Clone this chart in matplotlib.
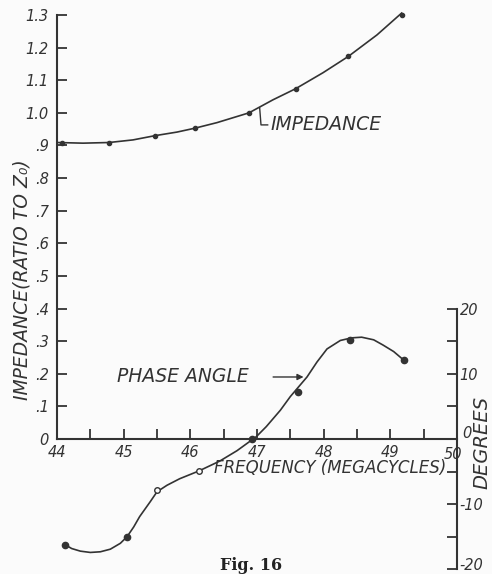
import matplotlib.pyplot as plt
import matplotlib.transforms as mtransforms
import numpy as np

# impedance (ratio to Z0) - measured points
imp_freq = [44.07, 44.78, 45.47, 46.07, 46.88, 47.58, 48.37, 49.17]
imp_val = [0.906, 0.909, 0.930, 0.953, 1.000, 1.074, 1.173, 1.300]
# impedance - drawn curve
imp_curve_f = [44.0, 44.39, 44.78, 45.14, 45.47, 45.8, 46.07, 46.4, 46.88,
               47.24, 47.58, 47.99, 48.37, 48.8, 49.17]
imp_curve_v = [0.909, 0.907, 0.909, 0.917, 0.930, 0.941, 0.953, 0.970, 1.0,
               1.040, 1.074, 1.123, 1.173, 1.239, 1.306]

# phase angle (degrees) - measured points
ph_freq = [44.12, 45.05, 46.92, 47.62, 48.40, 49.20]
ph_val = [-16.2, -15.0, 0.0, 7.2, 15.1, 12.1]
ph_open_freq = [45.50, 46.13]
ph_open_val = [-7.9, -4.9]
# phase angle - drawn curve
ph_curve_f = [44.12, 44.22, 44.35, 44.5, 44.65, 44.8, 44.95, 45.05, 45.15,
              45.24, 45.4, 45.5, 45.65, 45.84, 46.13, 46.44, 46.7, 46.99,
              47.14, 47.35, 47.5, 47.75, 47.9, 48.05, 48.25, 48.42, 48.57,
              48.75, 48.89, 49.05, 49.2]
ph_curve_v = [-16.2, -16.8, -17.2, -17.4, -17.3, -16.9, -16.0, -15.0, -13.5,
              -11.9, -9.6, -8.1, -7.1, -6.1, -4.9, -3.4, -1.8, 0.35,
              1.9, 4.4, 6.5, 9.5, 11.8, 13.8, 15.1, 15.5, 15.6,
              15.2, 14.4, 13.4, 12.1]

imp_ticks = [0, .1, .2, .3, .4, .5, .6, .7, .8, .9, 1.0, 1.1, 1.2, 1.3]
imp_labels = ['0', '.1', '.2', '.3', '.4', '.5', '.6', '.7', '.8', '.9',
              '1.0', '1.1', '1.2', '1.3']
freq_ticks = [44, 45, 46, 47, 48, 49, 50]
deg_ticks = [-20, -15, -10, -5, 0, 5, 10, 15, 20]
deg_labels = ['-20', '', '-10', '', '0', '', '10', '', '20']

ink = '#333333'
bg = '#fbfbfb'
hand = dict(family='DejaVu Sans', style='italic', color=ink)


def nudge(label, dx, dy):
    label.set_transform(label.get_transform() +
                        mtransforms.ScaledTranslation(dx / 72, dy / 72,
                                                      fig.dpi_scale_trans))


fig = plt.figure(figsize=(4.92, 5.74), dpi=100, facecolor=bg)
ax = fig.add_axes([57 / 492, 1 - 569.4 / 574, 400 / 492, 554.4 / 574])
ax.set_facecolor(bg)
ax.set_xlim(44, 50)
ax.set_ylim(-0.4, 1.3)

for s in ['top', 'right']:
    ax.spines[s].set_visible(False)
ax.spines['left'].set_bounds(0, 1.3)
ax.spines['bottom'].set_position(('data', 0))
ax.spines['bottom'].set_bounds(44, 50)
for s in ['left', 'bottom']:
    ax.spines[s].set_color(ink)
    ax.spines[s].set_linewidth(1.5)

ax.set_yticks(imp_ticks)
ax.set_yticklabels(imp_labels, fontsize=10.5, **hand)
ax.set_xticks(freq_ticks)
ax.set_xticklabels([str(t) for t in freq_ticks], fontsize=10.5, **hand)
ax.set_xticks(np.arange(44.5, 50, 1.0), minor=True)
ax.tick_params(axis='y', direction='in', length=7, width=1.3, color=ink, pad=6)
ax.tick_params(axis='x', which='both', direction='in', length=7, width=1.3,
               color=ink, pad=4)
nudge(ax.get_xticklabels()[-1], -3, -2)

# impedance curve
ax.plot(imp_curve_f, imp_curve_v, color=ink, lw=1.2, clip_on=False)
ax.plot(imp_freq, imp_val, 'o', color=ink, ms=3, clip_on=False)

# phase angle on the degrees scale
ax2 = ax.twinx()
ax2.set_ylim(-20, 65)
for s in ['top', 'left', 'bottom']:
    ax2.spines[s].set_visible(False)
ax2.spines['right'].set_bounds(-20, 20)
ax2.spines['right'].set_color(ink)
ax2.spines['right'].set_linewidth(1.5)
ax2.set_yticks(deg_ticks)
ax2.set_yticklabels(deg_labels, fontsize=10.5, **hand)
ax2.tick_params(axis='y', direction='in', length=7, width=1.3, color=ink, pad=2)
nudge(ax2.get_yticklabels()[0], 0, 4)
nudge(ax2.get_yticklabels()[4], 2, 5)

ax2.plot(ph_curve_f, ph_curve_v, color=ink, lw=1.2, clip_on=False)
ax2.plot(ph_freq, ph_val, 'o', color=ink, ms=4.5, clip_on=False)
ax2.plot(ph_open_freq, ph_open_val, 'o', mfc=bg, mec=ink, mew=1, ms=4,
         clip_on=False)

# hand lettering
ax.text(47.2, 0.963, 'IMPEDANCE', fontsize=13.5, va='center', ha='left', **hand)
ax.plot([47.04, 47.06, 47.16], [1.015, 0.963, 0.963], color=ink, lw=1)
ax2.text(46.88, 9.5, 'PHASE ANGLE', fontsize=13.5, va='center', ha='right', **hand)
ax2.annotate('', xy=(47.74, 9.5), xytext=(47.2, 9.5),
             arrowprops=dict(arrowstyle='-|>', color=ink, lw=1,
                             mutation_scale=9))
ax2.text(48.1, -4.5, 'FREQUENCY (MEGACYCLES)', fontsize=12, va='center',
         ha='center', **hand)
fig.text(22 / 492, 1 - 280 / 574, 'IMPEDANCE(RATIO TO Z\u2080)', rotation=90,
         fontsize=13.5, ha='center', va='center', **hand)
fig.text(482 / 492, 1 - 442 / 574, 'DEGREES', rotation=90, fontsize=14,
         ha='center', va='center', **hand)
fig.text(251 / 492, 1 - 565 / 574, 'Fig. 16', family='DejaVu Serif',
         weight='bold', fontsize=11.5, ha='center', va='center', color='#222222')

fig.savefig('out.png', dpi=100, facecolor=bg)
